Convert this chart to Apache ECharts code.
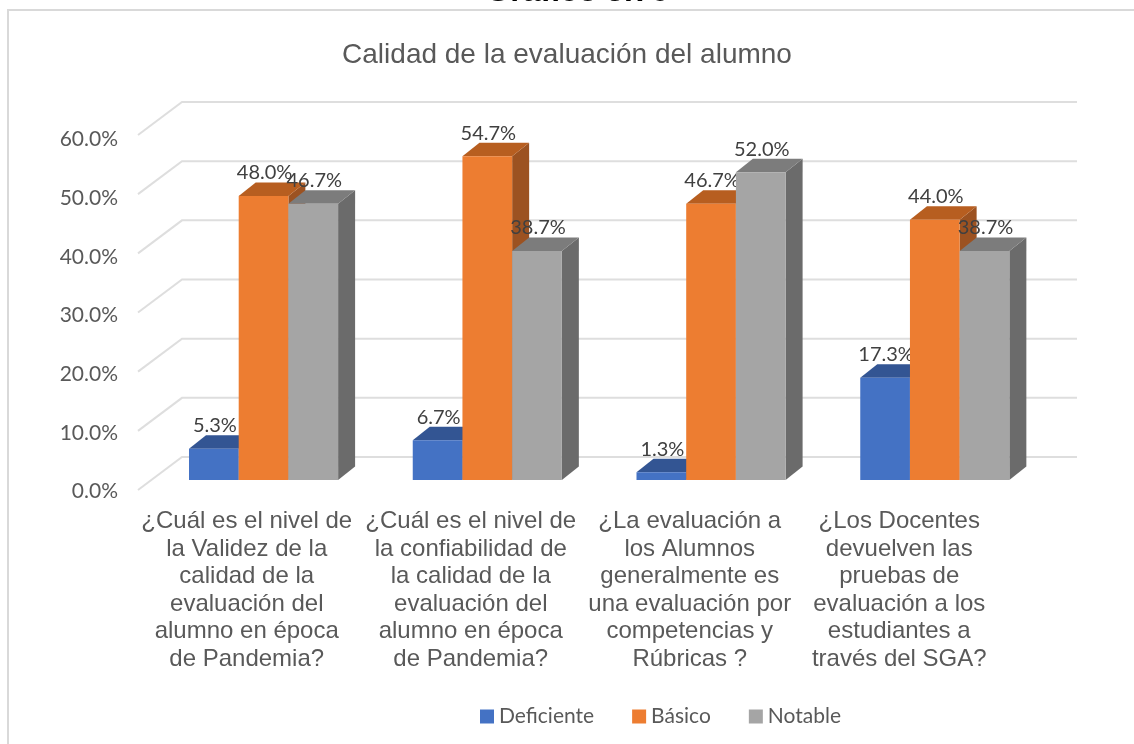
<!DOCTYPE html>
<html>
<head>
<meta charset="utf-8">
<title>Calidad de la evaluación del alumno</title>
<script src="https://cdn.jsdelivr.net/npm/echarts@6/dist/echarts.min.js"></script>
<style>
    html, body { margin: 0; padding: 0; background: #fff; }
    #chart { width: 1134px; height: 744px; }
</style>
</head>
<body>
<div id="chart"></div>
<script>
// values
const categories = [
    '¿Cuál es el nivel de\nla Validez de la\ncalidad de la\nevaluación del\nalumno en época\nde Pandemia?',
    '¿Cuál es el nivel de\nla confiabilidad de\nla calidad de la\nevaluación del\nalumno en época\nde Pandemia?',
    '¿La evaluación a\nlos Alumnos\ngeneralmente es\nuna evaluación por\ncompetencias y\nRúbricas ?',
    '¿Los Docentes\ndevuelven las\npruebas de\nevaluación a los\nestudiantes a\ntravés del SGA?'
];
const deficiente = [5.3, 6.7, 1.3, 17.3];
const basico = [48.0, 54.7, 46.7, 44.0];
const notable = [46.7, 38.7, 52.0, 38.7];
const yTicks = [0, 10, 20, 30, 40, 50, 60];

const WALL_DX = 44, WALL_DY = 33;   // depth of the back wall
const BAR_DX = 17, BAR_DY = 13.5;   // depth of a bar
const BAR_LEFT = 51, BAR_W = 49.7;  // first bar offset inside a band, bar width
const BAR_LIFT = 10;                // bars stand a little behind the front edge
const CAT_PAD_LEFT = [0, 13, 16, 0]; // category text is not evenly spaced in the original

const labelFont = 'Lato, "Open Sans", sans-serif';
const axisFont = '"Liberation Sans", Arial, sans-serif';

function wallSeries() {
    return {
        type: 'custom',
        name: 'wall',
        xAxisIndex: 0,
        yAxisIndex: 0,
        silent: true,
        z: 1,
        data: yTicks.map((t) => [0, t]),
        encode: { x: 0, y: 1 },
        renderItem(params, api) {
            const y = api.coord([0, api.value(1)])[1];
            const left = params.coordSys.x;
            const right = left + params.coordSys.width;
            return {
                type: 'polyline',
                shape: {
                    points: [
                        [left, y],
                        [left + WALL_DX, y - WALL_DY],
                        [right + WALL_DX, y - WALL_DY]
                    ]
                },
                style: { fill: 'none', stroke: '#dedede', lineWidth: 2 }
            };
        }
    };
}

function barSeries(name, values, index, front, top, side) {
    return {
        type: 'custom',
        name: name,
        xAxisIndex: 0,
        yAxisIndex: 0,
        z: 2 + index,
        itemStyle: { color: front },
        data: values.map((v, i) => [i, v]),
        encode: { x: 0, y: 1 },
        renderItem(params, api) {
            const cat = api.value(0);
            const val = api.value(1);
            const base = api.coord([cat, 0]);
            const head = api.coord([cat, val]);
            const band = api.size([1, 0])[0];
            const x0 = base[0] - band / 2 + BAR_LEFT + index * BAR_W;
            const x1 = x0 + BAR_W;
            const y0 = base[1] - BAR_LIFT;
            const y1 = head[1] - BAR_LIFT;
            return {
                type: 'group',
                children: [
                    {
                        type: 'polygon',
                        shape: { points: [[x1, y0], [x1 + BAR_DX, y0 - BAR_DY], [x1 + BAR_DX, y1 - BAR_DY], [x1, y1]] },
                        style: { fill: side }
                    },
                    {
                        type: 'polygon',
                        shape: { points: [[x0, y1], [x0 + BAR_DX, y1 - BAR_DY], [x1 + BAR_DX, y1 - BAR_DY], [x1, y1]] },
                        style: { fill: top }
                    },
                    {
                        type: 'rect',
                        shape: { x: x0, y: y1, width: BAR_W, height: y0 - y1 },
                        style: { fill: front }
                    },
                    {
                        type: 'text',
                        z2: 100,
                        style: {
                            x: (x0 + x1) / 2 + 1,
                            y: y1 - 23,
                            text: val.toFixed(1) + '%',
                            align: 'center',
                            verticalAlign: 'middle',
                            fill: '#404040',
                            font: '20px ' + labelFont
                        }
                    }
                ]
            };
        }
    };
}

const chart = echarts.init(document.getElementById('chart'), null, { renderer: 'canvas' });

chart.setOption({
    animation: false,
    backgroundColor: '#fff',
    title: {
        text: 'Calidad de la evaluación del alumno',
        left: 'center',
        top: 36,
        textStyle: { color: '#595959', fontSize: 28, fontWeight: 'normal', fontFamily: axisFont }
    },
    legend: {
        data: ['Deficiente', 'Básico', 'Notable'],
        left: 475,
        top: 701,
        icon: 'rect',
        itemWidth: 14,
        itemHeight: 14,
        itemGap: 38,
        textStyle: { color: '#595959', fontSize: 21, fontFamily: labelFont }
    },
    graphic: [
        {
            type: 'polyline',
            z: 0,
            shape: { points: [[8, 744], [8, 10], [1134, 10]] },
            style: { fill: 'none', stroke: '#d9d9d9', lineWidth: 2 }
        },
        {
            type: 'text',
            style: {
                x: 577,
                y: 8,
                text: 'Gráfico 3.76',
                align: 'center',
                verticalAlign: 'bottom',
                fill: '#000',
                font: 'bold 32px ' + axisFont
            }
        }
    ],
    grid: [
        { left: 138, top: 135, width: 895, height: 355 },
        // the axis text sits on its own grid, tick labels and category text
        // do not line up with the bars in the original
        { left: 138, top: 139.5, width: 870, height: 352 }
    ],
    xAxis: [
        {
            type: 'category',
            gridIndex: 0,
            data: categories,
            axisLine: { show: false },
            axisTick: { show: false },
            axisLabel: { show: false }
        },
        {
            type: 'category',
            gridIndex: 1,
            data: categories.map((c, i) => ({
                value: c,
                textStyle: { padding: [0, 0, 0, CAT_PAD_LEFT[i]] }
            })),
            axisLine: { show: false },
            axisTick: { show: false },
            axisLabel: {
                interval: 0,
                hideOverlap: false,
                margin: 16,
                color: '#595959',
                fontFamily: axisFont,
                fontSize: 24,
                lineHeight: 27.6
            }
        }
    ],
    yAxis: [
        {
            type: 'value',
            gridIndex: 0,
            min: 0,
            max: 60,
            interval: 10,
            axisLine: { show: false },
            axisTick: { show: false },
            splitLine: { show: false },
            axisLabel: { show: false }
        },
        {
            type: 'value',
            gridIndex: 1,
            min: 0,
            max: 60,
            interval: 10,
            axisLine: { show: false },
            axisTick: { show: false },
            splitLine: { show: false },
            axisLabel: {
                margin: 20,
                color: '#595959',
                fontFamily: labelFont,
                fontSize: 21,
                formatter: (v) => v.toFixed(1) + '%'
            }
        }
    ],
    series: [
        wallSeries(),
        barSeries('Deficiente', deficiente, 0, '#4472c4', '#335593', '#2c4a80'),
        barSeries('Básico', basico, 1, '#ed7d31', '#b75e20', '#9c5221'),
        barSeries('Notable', notable, 2, '#a5a5a5', '#7c7c7c', '#6b6b6b')
    ]
});
</script>
</body>
</html>
